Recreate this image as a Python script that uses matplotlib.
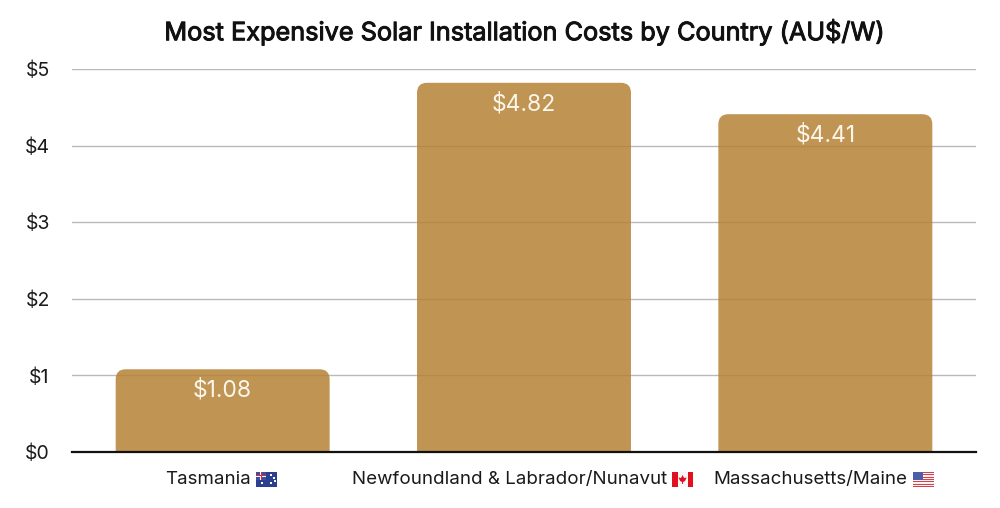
import matplotlib
matplotlib.use("Agg")
import matplotlib.pyplot as plt
import matplotlib.patheffects as pe
from matplotlib.patches import Rectangle, PathPatch, Polygon
from matplotlib.path import Path
from matplotlib.transforms import IdentityTransform, ScaledTranslation

categories = ["Tasmania", "Newfoundland & Labrador/Nunavut", "Massachusetts/Maine"]
flags = ["au", "ca", "us"]
values = [1.08, 4.82, 4.41]
value_labels = ["$1.08", "$4.82", "$4.41"]
y_ticks = [0, 1, 2, 3, 4, 5]
y_tick_labels = ["$0", "$1", "$2", "$3", "$4", "$5"]
title = "Most Expensive Solar Installation Costs by Country (AU$/W)"

plt.rcParams["font.family"] = ["Inter", "Lato", "DejaVu Sans"]

W, H = 1000, 508
BAR_W = 0.71
RADIUS = 10  # pixels


def rounded_bar(ax, x, height, rx, ry, **kw):
    # bar with only the top corners rounded
    l, r = x - BAR_W / 2, x + BAR_W / 2
    verts = [(l, 0), (l, height - ry), (l, height), (l + rx, height),
             (r - rx, height), (r, height), (r, height - ry), (r, 0), (l, 0)]
    codes = [Path.MOVETO, Path.LINETO, Path.CURVE3, Path.CURVE3,
             Path.LINETO, Path.CURVE3, Path.CURVE3, Path.LINETO, Path.CLOSEPOLY]
    p = PathPatch(Path(verts, codes), **kw)
    ax.add_patch(p)
    return p


def px_rect(fig, x, y, w, h, color):
    fig.add_artist(Rectangle((x, y), w, h, facecolor=color, edgecolor="none",
                             transform=IdentityTransform()))


def draw_flag(fig, kind, x, y):
    # x, y = lower left in pixels, flags are 21x15
    w, h = 21, 15
    if kind == "au":
        px_rect(fig, x, y, w, h, "#2a3f8f")
        px_rect(fig, x, y + 7, 10, 8, "#3b4f9c")
        px_rect(fig, x + 4, y + 7, 2.4, 8, "#f4f4f4")
        px_rect(fig, x, y + 10, 10, 2.4, "#f4f4f4")
        px_rect(fig, x + 4.6, y + 7, 1.2, 8, "#d8293a")
        px_rect(fig, x, y + 10.6, 10, 1.2, "#d8293a")
        for sx, sy in [(5, 3), (14, 11), (17, 8), (14, 3), (18, 5)]:
            px_rect(fig, x + sx, y + sy, 1.6, 1.6, "#ffffff")
    elif kind == "ca":
        px_rect(fig, x, y, w, h, "#f7f7f7")
        px_rect(fig, x, y, 5.5, h, "#e01020")
        px_rect(fig, x + w - 5.5, y, 5.5, h, "#e01020")
        fig.add_artist(Polygon([(x + 10.5, y + 12), (x + 12, y + 9), (x + 14.5, y + 9.5),
                                (x + 13, y + 6), (x + 11, y + 5), (x + 11, y + 3),
                                (x + 10, y + 3), (x + 10, y + 5), (x + 8, y + 6),
                                (x + 6.5, y + 9.5), (x + 9, y + 9)],
                               facecolor="#e01020", edgecolor="none",
                               transform=IdentityTransform()))
    else:
        px_rect(fig, x, y, w, h, "#f6f0f0")
        for i in range(0, 13, 2):
            px_rect(fig, x, y + i * h / 13, w, h / 13, "#d5404f")
        px_rect(fig, x, y + 7, 10, 8, "#4a5fa8")


fig = plt.figure(figsize=(W / 100, H / 100), dpi=100)
ax = fig.add_axes([72 / W, (H - 452) / H, (976 - 72) / W, (452 - 69) / H])

x = list(range(len(categories)))
ax.set_xlim(-0.5, 2.5)
ax.set_ylim(0, 5)

rx = RADIUS * 3 / (976 - 72)
ry = RADIUS * 5 / (452 - 69)
for xi, v, lab in zip(x, values, value_labels):
    rounded_bar(ax, xi, v, rx, ry, facecolor="#b58235", edgecolor="none", alpha=0.85, zorder=2)
    ax.annotate(lab, (xi, v), xytext=(0, -21), textcoords="offset pixels",
                ha="center", va="center", color="#fbf6ec", fontsize=16.5, zorder=3)

ax.set_yticks(y_ticks, y_tick_labels, fontsize=14, color="#1a1a1a")
ax.set_xticks(x, categories, fontsize=13.5, color="#1a1a1a")
ax.tick_params(axis="both", length=0)
ax.tick_params(axis="y", pad=16)
ax.tick_params(axis="x", pad=14)
ax.grid(axis="y", color="#b9b9b9", linewidth=1)
ax.set_axisbelow(True)
for s in ["top", "right", "left"]:
    ax.spines[s].set_visible(False)
ax.spines["bottom"].set_linewidth(1.6)
ax.spines["bottom"].set_color("#111111")
ax.spines["bottom"].set_zorder(4)

t = fig.text(524.5 / W, 1 - 32 / H, title, ha="center", va="center", fontsize=18.2,
             color="#111111")
t.set_path_effects([pe.withStroke(linewidth=0.7, foreground="#111111")])

# shift labels left so label + flag is centred, flag goes after the text
fig.canvas.draw()
renderer = fig.canvas.get_renderer()
for label, kind in zip(ax.get_xticklabels(), flags):
    label.set_transform(label.get_transform() + ScaledTranslation(-14.5 / 100, 0, fig.dpi_scale_trans))
    bb = label.get_window_extent(renderer)
    draw_flag(fig, kind, bb.x1 + 5, H - 487)

fig.savefig("out.png", dpi=100)
